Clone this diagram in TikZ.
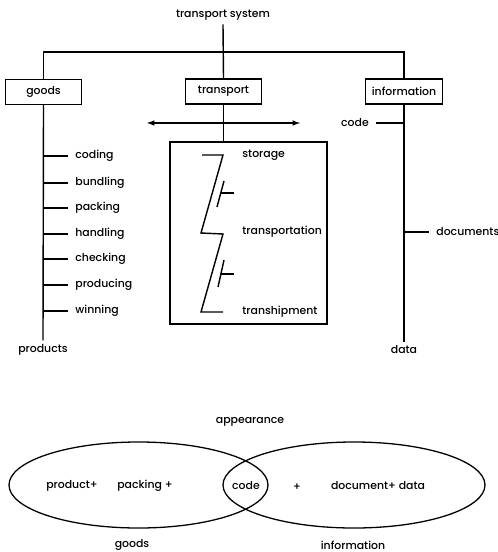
\documentclass[tikz,border=0pt]{standalone}
\usepackage{fontspec}
\setmainfont{Poppins}[UprightFont = * Medium]
\usetikzlibrary{positioning,shapes.geometric}
\tikzstyle{box} = [draw, line width=1pt, minimum width=2.3cm, minimum height=0.75cm, inner sep=1pt]
\tikzstyle{item} = [anchor=west, inner sep=1pt]
\tikzstyle{wire} = [line width=1.2pt]
\tikzstyle{set} = [draw, ellipse, line width=1.1pt, minimum height=2.58cm]

\begin{document}
\begin{tikzpicture}[x=0.03cm, y=-0.03cm, font=\fontsize{9.3}{11}\selectfont]
			\useasboundingbox (0,0) rectangle (498,552);
			\node (ts) at (223,15) {transport system};
			\node[box] (goods) at (43.5,92) {goods};
			\node[box] (transport) at (223.5,91.5) {transport};
			\node[box] (info) at (404,91.5) {information};
			\coordinate (top) at (223,52);
			\draw[wire] (ts.south) -- (transport.north);
			\draw[wire] (goods.north) -- (goods.north |- top) -- (info.north |- top) -- (info.north);
			% goods side
			\node (products) at (43,350) {products};
			\draw[wire] (goods.south) -- (products.north);
			\node[item] (coding) at (74,156) {coding};
			\node[item] (bundling) at (74,183) {bundling};
			\node[item] (packing) at (74,208) {packing};
			\node[item] (handling) at (74,234) {handling};
			\node[item] (checking) at (74,259) {checking};
			\node[item] (producing) at (74,285) {producing};
			\node[item] (winning) at (74,311) {winning};
			\draw[wire, shorten >=5pt] (coding.west -| goods) -- (coding.west);
			\draw[wire, shorten >=5pt] (bundling.west -| goods) -- (bundling.west);
			\draw[wire, shorten >=5pt] (packing.west -| goods) -- (packing.west);
			\draw[wire, shorten >=5pt] (handling.west -| goods) -- (handling.west);
			\draw[wire, shorten >=5pt] (checking.west -| goods) -- (checking.west);
			\draw[wire, shorten >=5pt] (producing.west -| goods) -- (producing.west);
			\draw[wire, shorten >=5pt] (winning.west -| goods) -- (winning.west);
			% transport side
			\coordinate (arrL) at (147,123);
			\coordinate (arrR) at (300,123);
			\draw[wire, <->, >=latex] (arrL) -- (arrR);
			\node[draw, line width=1pt, minimum width=4.71cm, minimum height=5.46cm] (chain) at (248.5,233) {};
			\draw[wire] (transport.south) -- (transport.south |- chain.north);
			\draw[wire] (202,155) -- (223,155) -- (201,233) -- (223,234) -- (201,312) -- (223,312);
			\draw[wire] (224,181) -- (217,207);
			\draw[wire] (221,193) -- (234,193);
			\draw[wire] (224,260) -- (218,287);
			\draw[wire] (221,274) -- (234,274);
			\node[item] (storage) at (241,155) {storage};
			\node[item] (transportation) at (241,232) {transportation};
			\node[item] (transhipment) at (241,312) {transhipment};
			% information side
			\node (data) at (404,350) {data};
			\draw[wire] (info.south) -- (data.north);
			\node (code) at (355,123) {code};
			\draw[wire, shorten <=3pt] (code.east) -- (code.east -| info);
			\node[item] (documents) at (435,232) {documents};
			\draw[wire, shorten >=5pt] (documents.west -| info) -- (documents.west);
			% appearance
			\node (appearance) at (250,422) {appearance};
			\node[set, minimum width=7.77cm] (goodsset) at (138.5,485) {};
			\node[set, minimum width=7.86cm] (infoset) at (354,485) {};
			\node (product) at (72,486) {product+};
			\node (packing2) at (145,486) {packing +};
			\node (code2) at (246,486) {code};
			\node (plus) at (297,487) {+};
			\node (document) at (378,486) {document+ data};
			\node (goodslabel) at (132,545) {goods};
			\node (infolabel) at (353,545) {information};
		\end{tikzpicture}
\end{document}
